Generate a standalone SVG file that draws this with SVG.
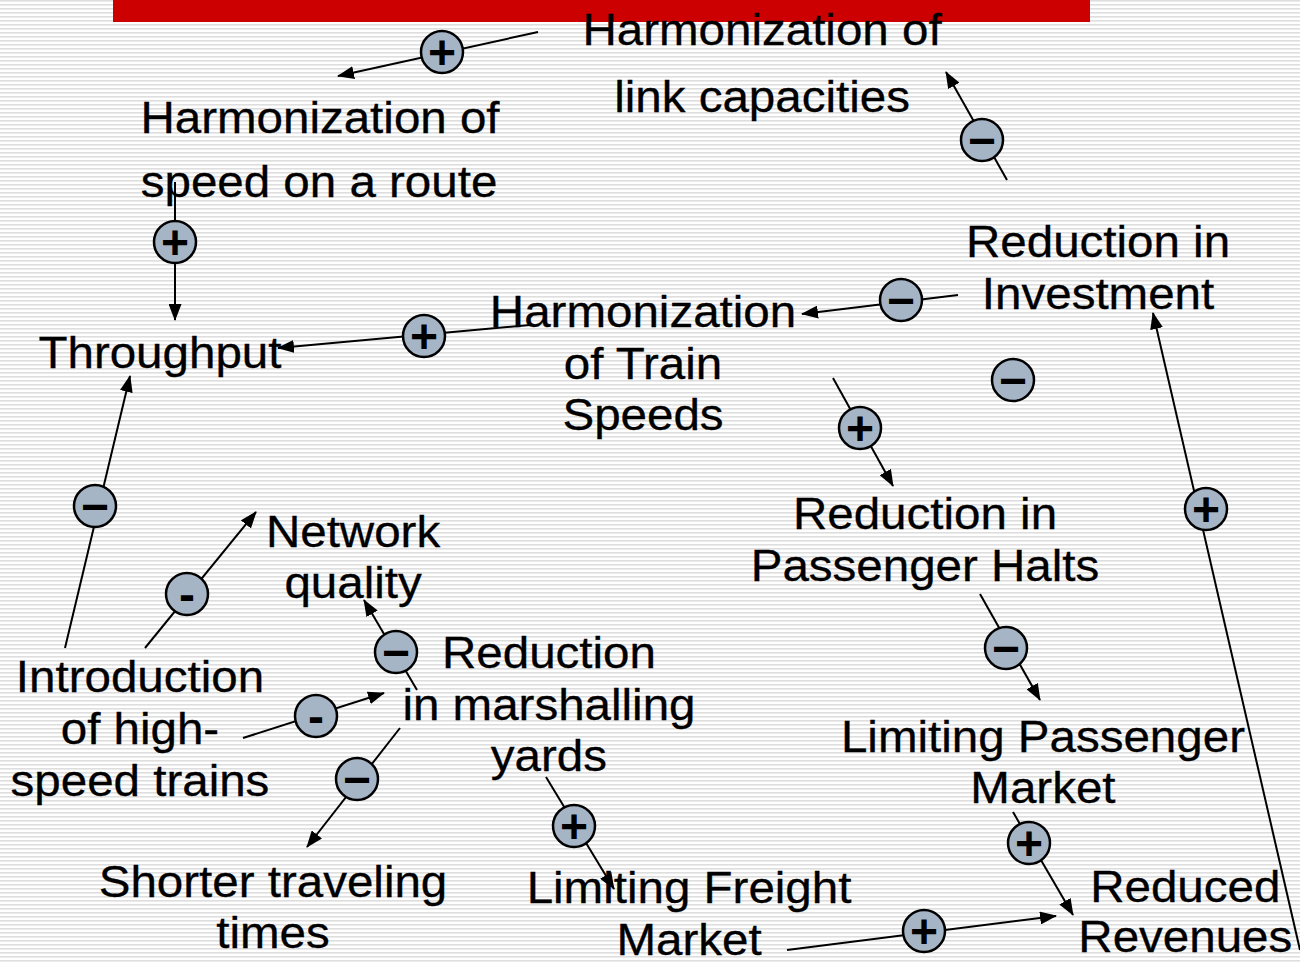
<svg xmlns="http://www.w3.org/2000/svg" width="1300" height="962" viewBox="0 0 1300 962">
<defs>
<pattern id="stripes" x="0" y="0" width="8" height="4" patternUnits="userSpaceOnUse">
<rect x="0" y="0" width="8" height="1.6" fill="#dedede"/>
</pattern>
<marker id="arr" markerUnits="userSpaceOnUse" markerWidth="17" markerHeight="13" refX="16" refY="6.5" orient="auto">
<path d="M0,0 L17,6.5 L0,13 z" fill="#000"/>
</marker>
<style>
.lbl{font-family:"Liberation Sans",Arial,sans-serif;font-size:44px;fill:#000;text-anchor:middle;stroke:#000;stroke-width:0.3}
.c{stroke:#000;stroke-width:2;fill:none;marker-end:url(#arr)}
.sg{fill:#a6b5c6;stroke:#000;stroke-width:2.5}
.st{font-family:"Liberation Sans",Arial,sans-serif;font-size:48px;font-weight:bold;fill:#000;text-anchor:middle}
</style>
</defs>
<rect width="1300" height="962" fill="#fff"/>
<rect width="1300" height="962" fill="url(#stripes)"/>
<rect x="113" y="0" width="977" height="22" fill="#cc0000"/>

<g id="connectors">
<path class="c" d="M538,32 L338,76"/>
<path class="c" d="M1007,180 L946,72"/>
<path class="c" d="M175,182 L175,320"/>
<path class="c" d="M958,295 L802,314"/>
<path class="c" d="M530,325 L278,348"/>
<path class="c" d="M833,378 L893,486"/>
<path class="c" d="M65,648 L130,376"/>
<path class="c" d="M1300,950 L1153,313"/>
<path class="c" d="M145,648 L256,512"/>
<path class="c" d="M417,690 L364,600"/>
<path class="c" d="M980,594 L1040,700"/>
<path class="c" d="M243,738 L384,693"/>
<path class="c" d="M400,728 L307,847"/>
<path class="c" d="M546,777 L614,889"/>
<path class="c" d="M1013,812 L1073,915"/>
<path class="c" d="M787,950 L1056,916"/>
</g>

<g id="signs">
<g><circle class="sg" cx="442" cy="52" r="21"/><text class="st" x="442" y="69">+</text></g>
<g><circle class="sg" cx="982" cy="140" r="21"/><text class="st" x="982" y="157">−</text></g>
<g><circle class="sg" cx="175" cy="242" r="21"/><text class="st" x="175" y="259">+</text></g>
<g><circle class="sg" cx="901" cy="300" r="21"/><text class="st" x="901" y="317">−</text></g>
<g><circle class="sg" cx="424" cy="336" r="21"/><text class="st" x="424" y="353">+</text></g>
<g><circle class="sg" cx="1013" cy="380" r="21"/><text class="st" x="1013" y="397">−</text></g>
<g><circle class="sg" cx="860" cy="428" r="21"/><text class="st" x="860" y="445">+</text></g>
<g><circle class="sg" cx="95" cy="506" r="21"/><text class="st" x="95" y="523">−</text></g>
<g><circle class="sg" cx="1206" cy="509" r="21"/><text class="st" x="1206" y="526">+</text></g>
<g><circle class="sg" cx="187" cy="594" r="21"/><text class="st" x="187" y="611">-</text></g>
<g><circle class="sg" cx="396" cy="652" r="21"/><text class="st" x="396" y="669">−</text></g>
<g><circle class="sg" cx="1006" cy="648" r="21"/><text class="st" x="1006" y="665">−</text></g>
<g><circle class="sg" cx="316" cy="716" r="21"/><text class="st" x="316" y="733">-</text></g>
<g><circle class="sg" cx="357" cy="779" r="21"/><text class="st" x="357" y="796">−</text></g>
<g><circle class="sg" cx="574" cy="826" r="21"/><text class="st" x="574" y="843">+</text></g>
<g><circle class="sg" cx="1029" cy="843" r="21"/><text class="st" x="1029" y="860">+</text></g>
<g><circle class="sg" cx="924" cy="931" r="21"/><text class="st" x="924" y="948">+</text></g>
</g>

<g transform="scale(1.08 1)">
<g id="harm-speed-route"><text class="lbl" x="296.3" y="133">Harmonization of</text><text class="lbl" x="295.4" y="197">speed on a route</text></g>
<g id="harm-link"><text class="lbl" x="705.6" y="45">Harmonization of</text><text class="lbl" x="705.6" y="112">link capacities</text></g>
<g id="red-invest"><text class="lbl" x="1016.7" y="257">Reduction in</text><text class="lbl" x="1016.7" y="309">Investment</text></g>
<g id="throughput"><text class="lbl" x="148.1" y="368">Throughput</text></g>
<g id="harm-train"><text class="lbl" x="595.4" y="327">Harmonization</text><text class="lbl" x="595.4" y="379">of Train</text><text class="lbl" x="595.4" y="430">Speeds</text></g>
<g id="red-halts"><text class="lbl" x="856.5" y="529">Reduction in</text><text class="lbl" x="856.5" y="581">Passenger Halts</text></g>
<g id="network"><text class="lbl" x="326.9" y="547">Network</text><text class="lbl" x="326.9" y="598">quality</text></g>
<g id="red-marsh"><text class="lbl" x="508.3" y="668">Reduction</text><text class="lbl" x="508.3" y="720">in marshalling</text><text class="lbl" x="508.3" y="771">yards</text></g>
<g id="intro-hs"><text class="lbl" x="129.6" y="692">Introduction</text><text class="lbl" x="129.6" y="744">of high-</text><text class="lbl" x="129.6" y="796">speed trains</text></g>
<g id="lim-pass"><text class="lbl" x="965.7" y="752">Limiting Passenger</text><text class="lbl" x="965.7" y="803">Market</text></g>
<g id="shorter"><text class="lbl" x="252.8" y="897">Shorter traveling</text><text class="lbl" x="252.8" y="948">times</text></g>
<g id="lim-freight"><text class="lbl" x="638" y="903">Limiting Freight</text><text class="lbl" x="638" y="955">Market</text></g>
<g id="reduced-rev"><text class="lbl" x="1097.5" y="902">Reduced</text><text class="lbl" x="1097.5" y="952">Revenues</text></g>
</g>
</svg>
